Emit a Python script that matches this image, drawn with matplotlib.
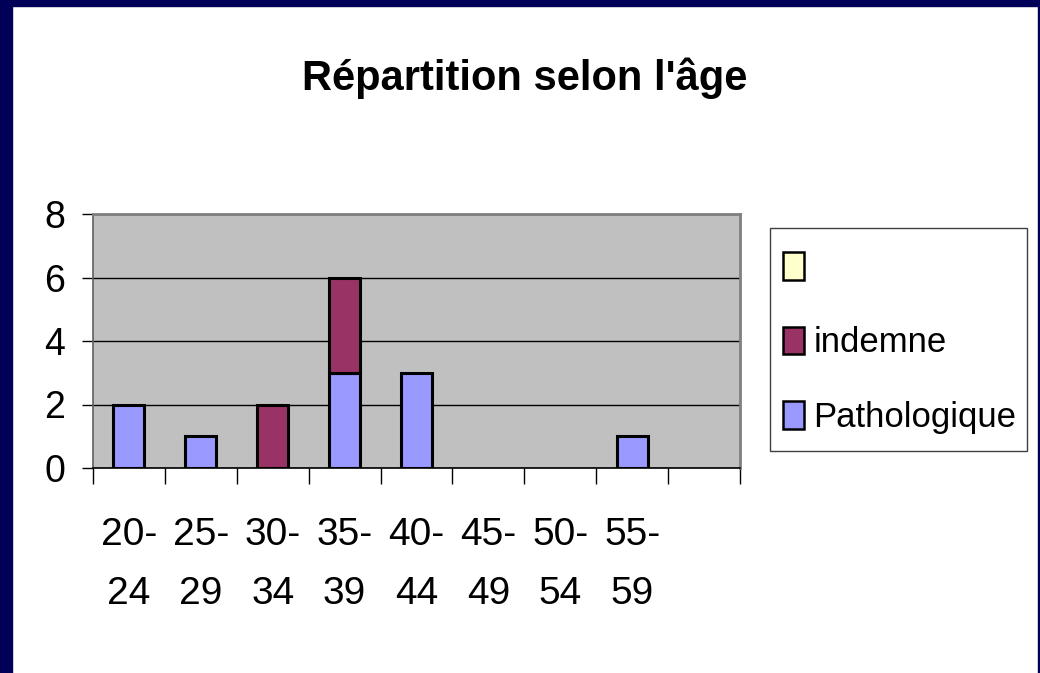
import matplotlib
matplotlib.use("Agg")
import matplotlib.pyplot as plt
from matplotlib.patches import Rectangle, Patch
import numpy as np

plt.rcParams['font.family'] = ['Liberation Sans', 'DejaVu Sans']

categories = ["20-\n24", "25-\n29", "30-\n34", "35-\n39", "40-\n44", "45-\n49", "50-\n54", "55-\n59", ""]
pathologique = [2, 1, 0, 3, 3, 0, 0, 1, 0]
indemne = [0, 0, 2, 3, 0, 0, 0, 0, 0]
serie3 = [0, 0, 0, 0, 0, 0, 0, 0, 0]
series_names = ["Pathologique", "indemne", ""]
yticks = [0, 2, 4, 6, 8]

W, H = 1040, 673
fig = plt.figure(figsize=(W / 100, H / 100), dpi=100)
fig.patch.set_facecolor("white")

# dark navy frame
navy = "#000058"
fig.add_artist(Rectangle((0, 0), 12 / W, 1, transform=fig.transFigure, color=navy, zorder=0))
fig.add_artist(Rectangle((0, 1 - 6 / H), 1, 6 / H, transform=fig.transFigure, color=navy, zorder=0))
fig.add_artist(Rectangle((1 - 2.5 / W, 0), 2.5 / W, 1, transform=fig.transFigure, color=navy, zorder=0))

left, right, top, bottom = 93, 740, 214, 468
ax = fig.add_axes([left / W, 1 - bottom / H, (right - left) / W, (bottom - top) / H])
ax.set_facecolor("#C0C0C0")

x = np.arange(len(categories))
bw = 0.43
ec = "black"
lw = 2.2
p = ax.bar(x, pathologique, bw, color="#9999FF", edgecolor=ec, linewidth=lw, zorder=3)
i = ax.bar(x, indemne, bw, bottom=pathologique, color="#993366", edgecolor=ec, linewidth=lw, zorder=3)
for xi, v1, v2 in zip(x, pathologique, indemne):
    if v1 == 0:
        p[xi].set_visible(False)
    if v2 == 0:
        i[xi].set_visible(False)

ax.set_xlim(-0.5, len(categories) - 0.5)
ax.set_ylim(0, 8)
ax.set_yticks(yticks)
ax.set_yticklabels([str(t) for t in yticks], fontsize=27)
ax.tick_params(axis="y", direction="out", length=8, width=1, pad=12, color="black")
ax.yaxis.grid(True, color="black", linewidth=1, zorder=1)

ax.set_xticks(np.arange(len(categories) + 1) - 0.5)
ax.set_xticklabels([])
ax.tick_params(axis="x", which="major", direction="out", length=11.5, width=1, color="black")
ax.set_xticks(x, minor=True)
ax.set_xticklabels(categories, minor=True, fontsize=28, linespacing=1.82)
ax.tick_params(axis="x", which="minor", length=0, pad=35)

for s in ["top", "right"]:
    ax.spines[s].set_color("#808080")
    ax.spines[s].set_linewidth(2)
ax.spines["left"].set_color("#606060")
ax.spines["left"].set_linewidth(1.2)
ax.spines["bottom"].set_color("black")
ax.spines["bottom"].set_linewidth(1.2)

fig.text(525 / W, 1 - 78 / H, "Répartition selon l'âge", ha="center", va="center",
         fontsize=30, fontweight="bold")

# legend frame
fig.add_artist(Rectangle((770 / W, 1 - 451 / H), (1027 - 770) / W, (451 - 228) / H,
                         transform=fig.transFigure, facecolor="white", edgecolor="#404040",
                         linewidth=1, zorder=2))
handles = [Patch(facecolor="#FFFFCC", edgecolor="black", linewidth=1.8),
           Patch(facecolor="#993366", edgecolor="black", linewidth=1.8),
           Patch(facecolor="#9999FF", edgecolor="black", linewidth=1.8)]
labels = [series_names[2], series_names[1], series_names[0]]
leg = fig.legend(handles, labels, loc="center left", bbox_to_anchor=(783 / W, 1 - 343 / H),
                 fontsize=25, frameon=False,
                 handlelength=0.6, handleheight=0.86, handletextpad=0.28, labelspacing=1.2,
                 borderpad=0, borderaxespad=0)
leg.set_zorder(3)

fig.savefig("out.png", dpi=100, facecolor="white")
